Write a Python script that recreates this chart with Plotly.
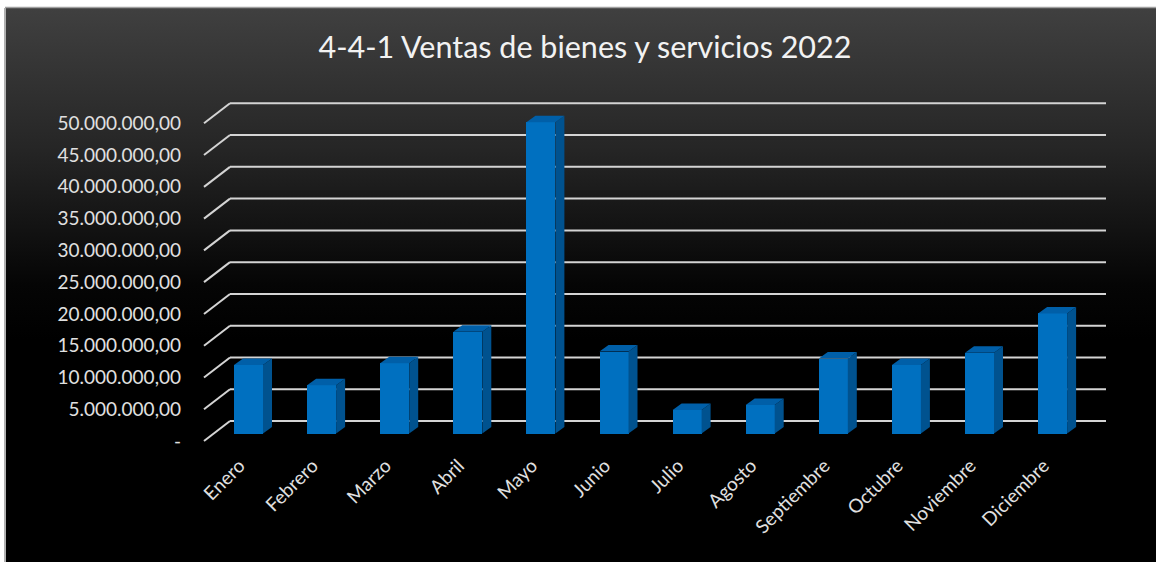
import base64
import plotly.graph_objects as go

# ---------------- data ----------------
months = ["Enero", "Febrero", "Marzo", "Abril", "Mayo", "Junio", "Julio",
          "Agosto", "Septiembre", "Octubre", "Noviembre", "Diciembre"]
ventas = [10.8e6, 7.6e6, 11.05e6, 16.0e6, 49.0e6, 12.9e6, 3.7e6,
          4.5e6, 11.8e6, 10.8e6, 12.7e6, 18.9e6]
y_ticks = [0, 5e6, 10e6, 15e6, 20e6, 25e6, 30e6, 35e6, 40e6, 45e6, 50e6]
y_tick_labels = ["-", "5.000.000,00", "10.000.000,00", "15.000.000,00",
                 "20.000.000,00", "25.000.000,00", "30.000.000,00",
                 "35.000.000,00", "40.000.000,00", "45.000.000,00",
                 "50.000.000,00"]
title = "4-4-1 Ventas de bienes y servicios 2022"

# ---------------- layout geometry (pixels) ----------------
W, H = 1156, 562
L, R, T, B = 190, 1120, 90, 450
x0_px, step_px = 248.5, 73.1          # first category centre, spacing
base_px, k = 433.5, 6.354e-6          # value 0 pixel, px per unit

def px_x(p):
    return (p - x0_px) / step_px

def px_dy(d):
    return d / k

xr = [px_x(L), px_x(R)]
yr = [(base_px - B) / k, (base_px - T) / k]

bar_w = 29 / step_px
dx = 9 / step_px
dy = px_dy(6.5)
back_off = px_dy(12.5)   # back wall lines are 12.5px above front bar plane
front_off = px_dy(-7.5)  # front ends 7.5px below
x_back_left = px_x(230)
x_front_left = px_x(204)
x_right = px_x(1106)

fig = go.Figure()

# gridlines (shapes below traces)
shapes = []
for t in y_ticks:
    yb = t + back_off
    yf = t + front_off
    shapes.append(dict(type="line", xref="x", yref="y", layer="below",
                       x0=x_back_left, x1=x_right, y0=yb, y1=yb,
                       line=dict(color="#d4d4d4", width=2)))
    shapes.append(dict(type="line", xref="x", yref="y", layer="below",
                       x0=x_front_left, x1=x_back_left, y0=yf, y1=yb,
                       line=dict(color="#d4d4d4", width=2)))

# front faces
xs = list(range(len(months)))
fig.add_trace(go.Bar(x=xs, y=ventas, width=bar_w, marker=dict(color="#0070C0", line=dict(width=0)),
                     showlegend=False, hoverinfo="skip"))

# side and top faces
for i, v in zip(xs, ventas):
    xr_ = i + bar_w / 2
    xl_ = i - bar_w / 2
    fig.add_trace(go.Scatter(
        x=[xr_, xr_ + dx, xr_ + dx, xr_, xr_], y=[0, dy, v + dy, v, 0],
        fill="toself", fillcolor="#00528f", line=dict(width=0),
        mode="lines", showlegend=False, hoverinfo="skip"))
    fig.add_trace(go.Scatter(
        x=[xl_, xr_, xr_ + dx, xl_ + dx, xl_], y=[v, v, v + dy, v + dy, v],
        fill="toself", fillcolor="#005fa8", line=dict(width=0),
        mode="lines", showlegend=False, hoverinfo="skip"))

# background gradient image
svg = ('<svg xmlns="http://www.w3.org/2000/svg" width="1150" height="554" '
       'preserveAspectRatio="none" viewBox="0 0 1150 554">'
       '<defs><linearGradient id="g" x1="0" y1="0" x2="0" y2="1">'
       '<stop offset="0" stop-color="#404040"/>'
       '<stop offset="0.25" stop-color="#262626"/>'
       '<stop offset="0.5" stop-color="#050505"/>'
       '<stop offset="0.6" stop-color="#000000"/>'
       '<stop offset="1" stop-color="#000000"/>'
       '</linearGradient></defs>'
       '<rect width="1150" height="554" fill="url(#g)"/></svg>')
src = "data:image/svg+xml;base64," + base64.b64encode(svg.encode()).decode()
pw, ph = R - L, B - T
fig.add_layout_image(dict(source=src, xref="paper", yref="paper",
                          x=(6 - L) / pw, y=(B - 8) / ph,
                          sizex=(W - 6) / pw, sizey=(H - 8) / ph,
                          xanchor="left", yanchor="top", sizing="stretch",
                          layer="below"))
# frame edges
shapes.append(dict(type="line", xref="paper", yref="paper", layer="below",
                   x0=(5 - L) / pw, x1=(5 - L) / pw, y0=(B - 8) / ph, y1=(B - H) / ph,
                   line=dict(color="#b0b0b0", width=2)))
shapes.append(dict(type="line", xref="paper", yref="paper", layer="below",
                   x0=(5 - L) / pw, x1=(W - L) / pw, y0=(B - 7.5) / ph, y1=(B - 7.5) / ph,
                   line=dict(color="#a0a0a0", width=1.5)))

fig.update_layout(
    width=W, height=H,
    margin=dict(l=L, r=W - R, t=T, b=H - B, pad=0),
    paper_bgcolor="white", plot_bgcolor="rgba(0,0,0,0)",
    shapes=shapes,
    title=dict(text=title, x=585 / W, xanchor="center", y=1 - 47 / H, yanchor="middle",
               font=dict(family="Lato", size=30.5, color="#f2f2f2")),
    font=dict(family="Lato", color="#e0e0e0"),
    bargap=0,
    xaxis=dict(range=xr, tickvals=xs, ticktext=months, tickangle=-45,
               showgrid=False, zeroline=False, showline=False, ticks="",
               ticklabelshift=-9,
               tickfont=dict(family="Lato", size=19, color="#e0e0e0")),
    yaxis=dict(range=yr, tickvals=[t + front_off for t in y_ticks], ticktext=y_tick_labels,
               showgrid=False, zeroline=False, showline=False, ticks="",
               ticklabelstandoff=8,
               tickfont=dict(family="Lato", size=19, color="#e0e0e0")),
)

fig.write_html("out.html", config={"displayModeBar": False},
               post_script="document.body.style.margin='0';")
